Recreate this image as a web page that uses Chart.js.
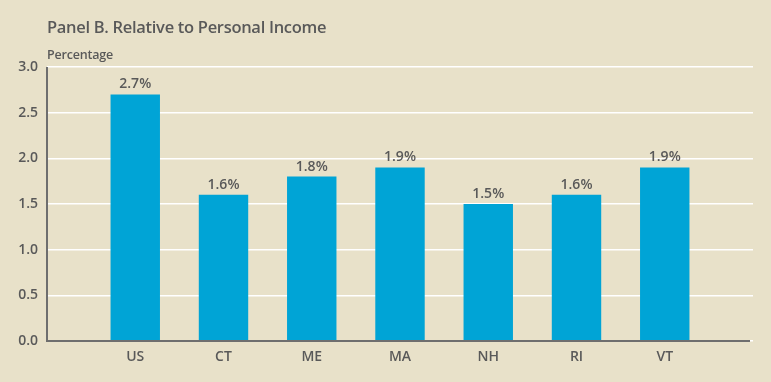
<!DOCTYPE html>
<html><head><meta charset="utf-8">
<script src="https://cdn.jsdelivr.net/npm/chart.js@4/dist/chart.umd.min.js"></script>
<style>html,body{margin:0;padding:0;background:#e8e1c9;}#wrap{width:771px;height:382px;}</style>
</head><body><div id="wrap"><canvas id="c" width="771" height="382"></canvas></div>
<script>
const categories = ['', 'US', 'CT', 'ME', 'MA', 'NH', 'RI', 'VT', ''];
const values = [null, 2.7, 1.6, 1.8, 1.9, 1.5, 1.6, 1.9, null];
const valueLabels = ['', '2.7%', '1.6%', '1.8%', '1.9%', '1.5%', '1.6%', '1.9%', ''];
const yTicks = [0, 0.5, 1.0, 1.5, 2.0, 2.5, 3.0];
const titleText = 'Panel B. Relative to Personal Income';
const yTitleText = 'Percentage';

const FONT = '"Open Sans", "Noto Sans", sans-serif';
const TXT = '#595959';

const overlay = {
  id: 'overlay',
  beforeDraw(chart) {
    const ctx = chart.ctx;
    ctx.save();
    ctx.fillStyle = '#e8e1c9';
    ctx.fillRect(0, 0, chart.width, chart.height);
    ctx.restore();
  },
  afterDatasetsDraw(chart) {
    const ctx = chart.ctx;
    const a = chart.chartArea;
    ctx.save();
    ctx.fillStyle = TXT;
    ctx.textBaseline = 'alphabetic';
    ctx.textAlign = 'left';
    ctx.font = '600 16.5px ' + FONT;
    ctx.letterSpacing = '-0.3px';
    ctx.fillText(titleText, a.left, 32.5);
    ctx.font = '600 12.5px ' + FONT;
    ctx.letterSpacing = '-0.2px';
    ctx.fillText(yTitleText, a.left, 59);
    ctx.letterSpacing = '0px';
    // axis lines
    ctx.strokeStyle = '#6e6e6e';
    ctx.lineWidth = 2;
    ctx.beginPath();
    ctx.moveTo(a.left, a.top);
    ctx.lineTo(a.left, a.bottom);
    ctx.lineTo(a.right - 3, a.bottom);
    ctx.stroke();
    // data labels
    ctx.font = '600 14px ' + FONT;
    ctx.textAlign = 'center';
    const meta = chart.getDatasetMeta(0);
    meta.data.forEach((bar, i) => {
      if (values[i] == null) return;
      ctx.fillText(valueLabels[i], bar.x, bar.y - 6);
    });
    ctx.restore();
  }
};

new Chart(document.getElementById('c'), {
  type: 'bar',
  data: {
    labels: categories,
    datasets: [{
      data: values,
      backgroundColor: '#00a4d6',
      borderWidth: 0,
      barPercentage: 0.56,
      categoryPercentage: 1.0
    }]
  },
  options: {
    responsive: false,
    animation: false,
    devicePixelRatio: 1,
    layout: { padding: { top: 67, right: 18, left: 0, bottom: 0 } },
    plugins: { legend: { display: false }, tooltip: { enabled: false }, title: { display: false } },
    scales: {
      x: {
        offset: false,
        grid: { display: false, drawTicks: false },
        border: { display: false },
        ticks: { color: TXT, font: { family: FONT, size: 14, weight: '600' }, padding: 8, maxRotation: 0, autoSkip: false },
        afterFit(s) { s.height = 41; }
      },
      y: {
        min: 0, max: 3,
        afterBuildTicks(s) { s.ticks = yTicks.map(v => ({ value: v })); },
        grid: { color: '#ffffff', lineWidth: 1.5, drawTicks: false },
        border: { display: false },
        ticks: { color: TXT, font: { family: FONT, size: 14, weight: '600' }, padding: 9, callback: v => Number(v).toFixed(1) },
        afterFit(s) { s.width = 47; }
      }
    }
  },
  plugins: [overlay]
});
</script></body></html>
